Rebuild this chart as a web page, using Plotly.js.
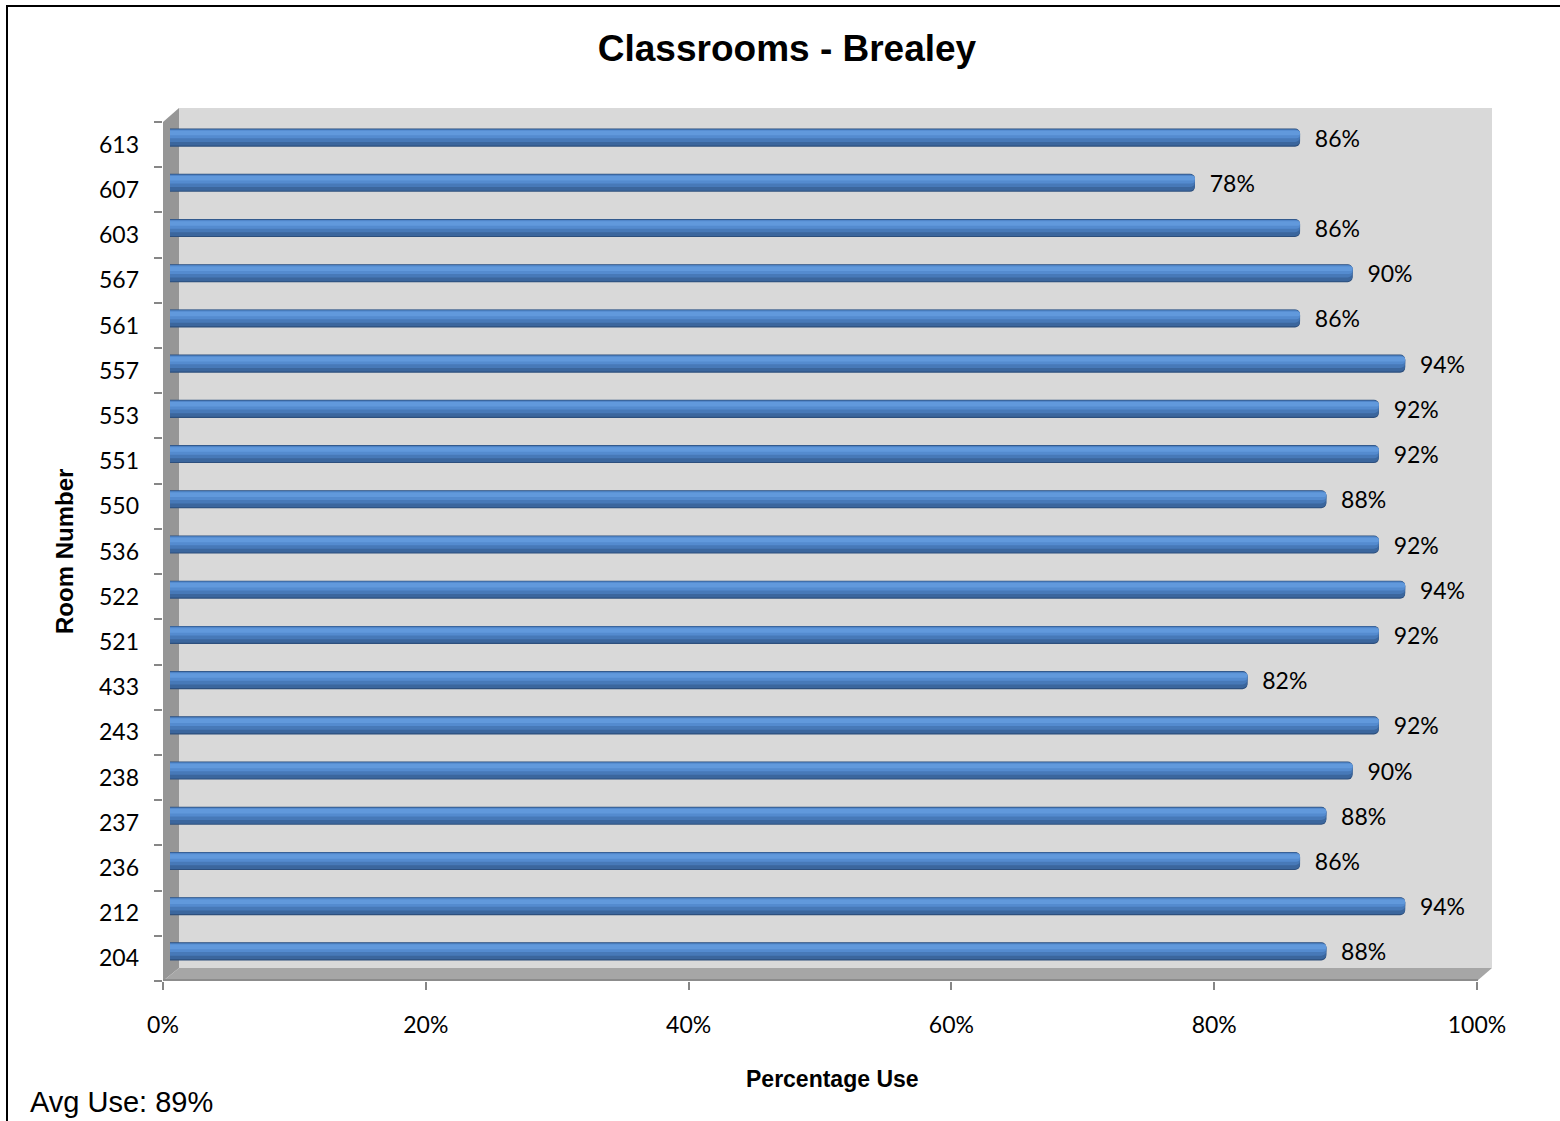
<!DOCTYPE html>
<html><head><meta charset="utf-8">
<script src="https://cdn.plot.ly/plotly-3.0.1.min.js"></script>
<style>
html,body{margin:0;padding:0;background:#fff;overflow:hidden}
#chart{width:1560px;height:1121px;position:absolute;left:0;top:0}
#frame{position:absolute;left:6px;top:5px;width:1700px;height:1300px;border-top:2px solid #000;border-left:2px solid #000;pointer-events:none}
</style></head><body>
<div id="chart"></div><div id="frame"></div>
<script>
// ---- data ----
const rooms = ['204','212','236','237','238','243','433','521','522','536','550','551','553','557','561','567','603','607','613'];
const usage = [0.88,0.94,0.86,0.88,0.90,0.92,0.82,0.92,0.94,0.92,0.88,0.92,0.92,0.94,0.86,0.90,0.86,0.78,0.86];
const xTickVals = [0,0.2,0.4,0.6,0.8,1.0];
const xTickText = ['0%','20%','40%','60%','80%','100%'];
const titleText = 'Classrooms - Brealey';
const xTitle = 'Percentage Use';
const yTitle = 'Room Number';
const avgUse = usage.reduce((a,b)=>a+b,0)/usage.length;
const avgNote = 'Avg Use: ' + Math.round(avgUse*100) + '%';

// ---- style ----
const labelFont = {family:'Lato, "Open Sans", sans-serif', size:23, color:'#000'};
const boldFont = {family:'"Liberation Sans", Arial, sans-serif', weight:'bold', color:'#000'};
// cylinder shading bands: [offset, width, colour]
const bands = [
  [-0.200, 0.40, '#2D4F7D'],
  [-0.175, 0.365,'#3B669D'],
  [-0.095, 0.275,'#4779B8'],
  [-0.015, 0.185,'#548BCF'],
  [ 0.050, 0.100,'#6199DC']
];

const traces = [{
  // invisible anchor trace so the visible category/percent axes are drawn
  type:'scatter', mode:'markers', x:usage, y:rooms, xaxis:'x', yaxis:'y',
  marker:{opacity:0, size:1}, hoverinfo:'skip', showlegend:false
}].concat(bands.map((b,i)=>({
  type:'bar', orientation:'h', x:usage, y:rooms, xaxis:'x2', yaxis:'y2',
  offset:b[0], width:b[1],
  marker:{color:b[2], line:{width:0}, cornerradius:5},
  hoverinfo:'skip', showlegend:false,
  text: i===0 ? usage.map(v=>'\u00a0\u00a0'+Math.round(v*100)+'%') : undefined,
  textposition: i===0 ? 'outside' : 'none',
  constraintext:'none', cliponaxis:false,
  textfont: labelFont
})));

// plot-area geometry helpers (pixel -> paper) for the 3-D wall decoration
const L=163, R=1477, T=122, B=981;
const px = x => (x-L)/(R-L);
const py = y => (B-y)/(B-T);
const shapes = [
  {type:'rect', xref:'paper', yref:'paper', x0:px(179), x1:px(1492), y0:py(968), y1:py(108),
   fillcolor:'#D9D9D9', line:{width:0}, layer:'below'},
  {type:'path', xref:'paper', yref:'paper', layer:'below', fillcolor:'#969696', line:{width:0},
   path:`M ${px(163)} ${py(122)} L ${px(179)} ${py(108)} L ${px(179)} ${py(968)} L ${px(163)} ${py(981)} Z`},
  {type:'path', xref:'paper', yref:'paper', layer:'below', fillcolor:'#A6A6A6', line:{width:0},
   path:`M ${px(163)} ${py(981)} L ${px(179)} ${py(968)} L ${px(1492)} ${py(968)} L ${px(1477)} ${py(981)} Z`},
  {type:'line', xref:'paper', yref:'paper', layer:'below', x0:px(163), x1:px(1478), y0:py(980), y1:py(980),
   line:{color:'#8C8C8C', width:2}}
];

const barShiftX = 7/(R-L);      // half-depth shift of the bars
const barShiftY = 7/((B-T)/rooms.length);

const layout = {
  width:1560, height:1121,
  margin:{l:L, r:1560-R, t:T, b:1121-B, pad:0},
  paper_bgcolor:'#fff', plot_bgcolor:'rgba(0,0,0,0)',
  barmode:'overlay', showlegend:false,
  title:{text:titleText, xref:'container', yref:'container', x:787/1560, y:1-48/1121,
         xanchor:'center', yanchor:'middle', font:Object.assign({size:37}, boldFont)},
  xaxis:{range:[0,1], tickvals:xTickVals, ticktext:xTickText, ticks:'outside', ticklen:8,
         tickcolor:'#868686', tickwidth:2, showgrid:false, zeroline:false, showline:false,
         tickfont:labelFont, ticklabelstandoff:15, fixedrange:true},
  yaxis:{type:'category', categoryorder:'array', categoryarray:rooms, range:[-0.5, rooms.length-0.5],
         tickson:'boundaries', ticks:'outside', ticklen:8, tickcolor:'#868686', tickwidth:2,
         showgrid:false, zeroline:false, showline:false, tickfont:labelFont, ticklabelstandoff:23, fixedrange:true},
  xaxis2:{overlaying:'x', range:[-barShiftX, 1-barShiftX], visible:false, fixedrange:true},
  yaxis2:{overlaying:'y', type:'category', categoryorder:'array', categoryarray:rooms,
          range:[-0.5-barShiftY, rooms.length-0.5-barShiftY], visible:false, fixedrange:true},
  shapes:shapes,
  annotations:[
    {text:xTitle, xref:'paper', yref:'paper', x:px(832), y:py(1079), xanchor:'center', yanchor:'middle',
     showarrow:false, font:Object.assign({size:23}, boldFont)},
    {text:yTitle, xref:'paper', yref:'paper', x:px(64), y:py(552), xanchor:'center', yanchor:'middle',
     textangle:-90, showarrow:false, font:Object.assign({size:24}, boldFont)},
    {text:avgNote, xref:'paper', yref:'paper', x:px(28), y:py(1102), xanchor:'left', yanchor:'middle',
     showarrow:false, font:{family:'"Liberation Sans", Arial, sans-serif', size:29, color:'#000'}}
  ]
};

Plotly.newPlot('chart', traces, layout, {displayModeBar:false, staticPlot:true});
</script>
</body></html>
